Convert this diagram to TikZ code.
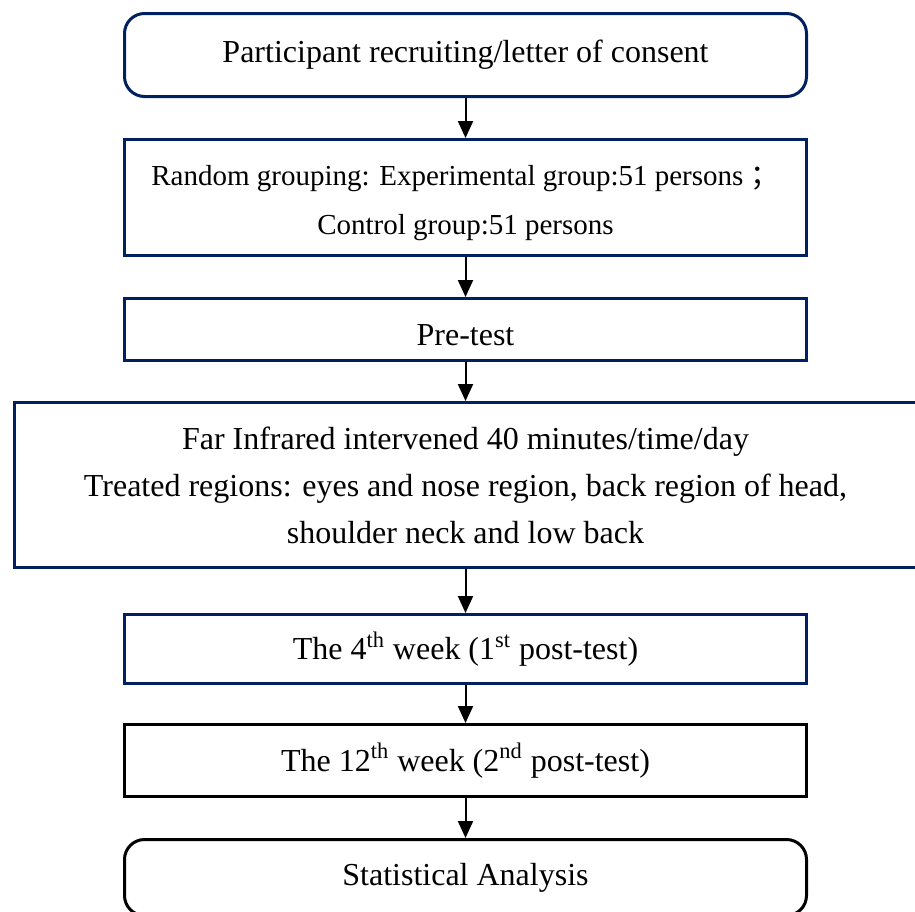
\documentclass[tikz,border=0pt]{standalone}
\usepackage{fontspec}
\setmainfont{Liberation Serif}
\newfontfamily\cjk{Noto Sans CJK SC}
\usetikzlibrary{arrows.meta, positioning}
\definecolor{navy}{RGB}{0,32,96}

\begin{document}
\begin{tikzpicture}[
      node distance=20pt,
      boxnode/.style={draw=navy, line width=1.5pt, minimum width=341pt, align=center, font=\fontsize{16}{23.5}\selectfont},
      roundnode/.style={boxnode, rounded corners=10pt},
      arrow/.style={-{Triangle[width=7.5pt, length=8.5pt]}, line width=1pt}
    ]
    \useasboundingbox (0,0) rectangle (457.5pt,-455.5pt);

    \node[roundnode, minimum height=41.5pt] (recruit) at (232.75pt,-27.5pt) {Participant recruiting/letter of consent};
    \node[boxnode, minimum height=58pt, below=of recruit, font=\fontsize{14.5}{24.5}\selectfont] (group)
      {\rule{0pt}{16pt}Random grouping: Experimental group:51 persons \cjk{；}\\Control group:51 persons};
    \node[boxnode, minimum height=31pt, below=of group] (pretest) {\rule{0pt}{16pt}Pre-test};
    \node[boxnode, minimum height=82.5pt, minimum width=451pt, below=19.5pt of pretest] (far)
      {Far Infrared intervened 40 minutes/time/day\\Treated regions: eyes and nose region, back region of head,\\shoulder neck and low back};
    \node[boxnode, minimum height=34.5pt, below=22pt of far] (week4)
      {The 4\textsuperscript{th} week (1\textsuperscript{st} post-test)};
    \node[boxnode, draw=black, minimum height=36pt, below=19pt of week4] (week12)
      {The 12\textsuperscript{th} week (2\textsuperscript{nd} post-test)};
    \node[roundnode, draw=black, minimum height=38pt, below=of week12] (stat) {Statistical Analysis};

    \draw[arrow] (recruit) -- (group);
    \draw[arrow] (group) -- (pretest);
    \draw[arrow] (pretest) -- (far);
    \draw[arrow] (far) -- (week4);
    \draw[arrow] (week4) -- (week12);
    \draw[arrow] (week12) -- (stat);
  \end{tikzpicture}
\end{document}
